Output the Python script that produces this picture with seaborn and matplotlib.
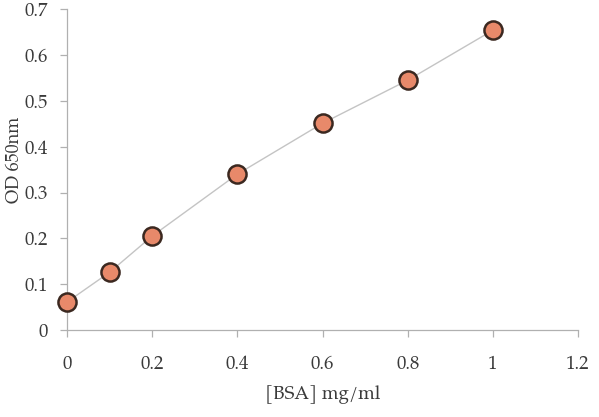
import matplotlib
matplotlib.use("Agg")
import matplotlib.pyplot as plt
import seaborn as sns
import pandas as pd

bsa = [0, 0.1, 0.2, 0.4, 0.6, 0.8, 1.0]
od650 = [0.061, 0.126, 0.205, 0.340, 0.451, 0.545, 0.654]
x_ticks = [0, 0.2, 0.4, 0.6, 0.8, 1, 1.2]
x_labels = ["0", "0.2", "0.4", "0.6", "0.8", "1", "1.2"]
y_ticks = [0, 0.1, 0.2, 0.3, 0.4, 0.5, 0.6, 0.7]
y_labels = ["0", "0.1", "0.2", "0.3", "0.4", "0.5", "0.6", "0.7"]

sns.set_style("white")
plt.rcParams['font.family'] = ['TeX Gyre Pagella', 'Liberation Serif', 'DejaVu Serif']

df = pd.DataFrame({"bsa": bsa, "od": od650})

fig = plt.figure(figsize=(5.99, 4.17), dpi=100)
ax = fig.add_axes([0.1119, 0.2086, 0.8531, 0.7694])

sns.lineplot(data=df, x="bsa", y="od", ax=ax, color="#c4c4c4", linewidth=1.0,
             zorder=2)
sns.scatterplot(data=df, x="bsa", y="od", ax=ax, s=170, color="#E8896A",
                edgecolor="#3b2820", linewidth=1.8, zorder=3, clip_on=False)

ax.set_xlim(0, 1.2)
ax.set_ylim(0, 0.7)
ax.set_xticks(x_ticks)
ax.set_xticklabels(x_labels)
ax.set_yticks(y_ticks)
ax.set_yticklabels(y_labels)

for s in ["top", "right"]:
    ax.spines[s].set_visible(False)
for s in ["left", "bottom"]:
    ax.spines[s].set_color("#b0b0b0")
    ax.spines[s].set_linewidth(0.9)

ax.tick_params(axis="x", direction="out", length=5, width=0.9, color="#b0b0b0",
               labelsize=13.5, pad=13, labelcolor="#3a3a3a")
ax.tick_params(axis="y", direction="out", length=5, width=0.9, color="#b0b0b0",
               labelsize=13.5, pad=9, labelcolor="#3a3a3a")
ax.tick_params(bottom=True, left=True)

ax.set_xlabel("[BSA] mg/ml", fontsize=13.5, color="#3a3a3a", labelpad=8)
ax.set_ylabel("OD 650nm", fontsize=13, color="#3a3a3a")
ax.yaxis.set_label_coords(-0.084, 0.53)
ax.grid(False)

fig.savefig("out.png", dpi=100)
